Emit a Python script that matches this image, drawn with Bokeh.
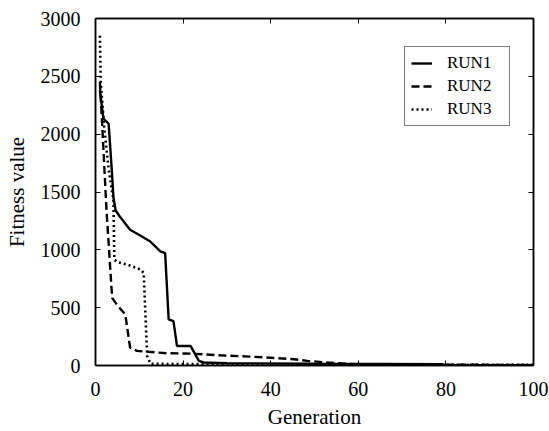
from bokeh.plotting import figure
from bokeh.models import LinearAxis, Range1d, Legend, LegendItem
from bokeh.embed import file_html
from bokeh.resources import INLINE

# ---- data ----
run1_gen = [1, 1.8, 3.0, 3.7, 4.1, 4.6, 5.5, 7.9, 10.6, 12.5, 14.8, 15.9, 16.7, 17.8, 18.6, 21.7, 23.6, 24.7, 30, 50, 79, 80, 100]
run1_val = [2380, 2135, 2090, 1700, 1450, 1340, 1290, 1173, 1115, 1072, 986, 972, 398, 384, 169, 169, 40, 26, 20, 15, 12, 3, 3]

run2_gen = [1, 1.5, 2.5, 3.8, 5.0, 6.8, 7.9, 9.5, 16.3, 21.7, 27.8, 35.4, 45.3, 48.4, 52.9, 60, 100]
run2_val = [2450, 2100, 1350, 585, 520, 442, 155, 126, 106, 103, 89, 77, 54, 40, 26, 8, 5]

run3_gen = [1, 1.2, 2, 3, 4.1, 4.3, 5, 7.5, 10.3, 11, 11.8, 12.6, 20, 100]
run3_val = [2850, 2450, 2050, 1700, 1430, 915, 895, 870, 830, 800, 80, 15, 12, 5]

x_ticks = [0, 20, 40, 60, 80, 100]
y_ticks = [0, 500, 1000, 1500, 2000, 2500, 3000]
series_names = ["RUN1", "RUN2", "RUN3"]

FONT = "Liberation Serif"

p = figure(width=549, height=431, output_backend="svg", toolbar_location=None,
           x_range=Range1d(0, 100), y_range=Range1d(0, 3000),
           min_border_left=95, min_border_right=16, min_border_top=18, min_border_bottom=65)
p.background_fill_color = "white"
p.border_fill_color = "white"
p.outline_line_color = "black"
p.outline_line_width = 1.5
p.xgrid.visible = False
p.ygrid.visible = False

r1 = p.line(run1_gen, run1_val, line_color="black", line_width=2.4)
r2 = p.line(run2_gen, run2_val, line_color="black", line_width=2.4, line_dash="8 4")
r3 = p.line(run3_gen, run3_val, line_color="black", line_width=2.6, line_dash="2 3")

def style_axis(ax, labels=True):
    ax.axis_line_color = "black"
    ax.axis_line_width = 1.5
    ax.major_tick_in = 5
    ax.major_tick_out = 0
    ax.major_tick_line_color = "black"
    ax.major_tick_line_width = 1
    ax.minor_tick_line_color = None
    if labels:
        ax.major_label_text_font = FONT
        ax.major_label_text_font_size = "20px"
        ax.major_label_text_color = "black"
        ax.axis_label_text_font = FONT
        ax.axis_label_text_font_size = "21px"
        ax.axis_label_text_font_style = "normal"
        ax.axis_label_text_color = "black"
    else:
        ax.major_label_text_font_size = "0px"
        ax.major_label_text_color = None
        ax.major_label_standoff = 0

xa = p.xaxis[0]
ya = p.yaxis[0]
xa.ticker = x_ticks
ya.ticker = y_ticks
style_axis(xa)
style_axis(ya)
xa.axis_label = "Generation"
ya.axis_label = "Fitness value"
xa.major_label_standoff = 16
xa.axis_label_standoff = 6
ya.major_label_standoff = 15
ya.axis_label_standoff = 9

top = LinearAxis(ticker=x_ticks)
right = LinearAxis(ticker=y_ticks)
style_axis(top, labels=False)
style_axis(right, labels=False)
p.add_layout(top, "above")
p.add_layout(right, "right")

legend = Legend(items=[LegendItem(label=series_names[0], renderers=[r1]),
                       LegendItem(label=series_names[1], renderers=[r2]),
                       LegendItem(label=series_names[2], renderers=[r3])],
                location=(309, 239))
legend.label_text_font = FONT
legend.label_text_font_size = "17px"
legend.label_text_color = "black"
legend.border_line_color = "black"
legend.border_line_width = 1
legend.background_fill_color = "white"
legend.background_fill_alpha = 1
legend.padding = 6
legend.spacing = 3
legend.label_height = 20
legend.glyph_height = 20
legend.glyph_width = 21
legend.label_standoff = 15
legend.label_width = 56
legend.margin = 0
p.add_layout(legend)

open("out.html", "w").write(file_html(p, INLINE))
